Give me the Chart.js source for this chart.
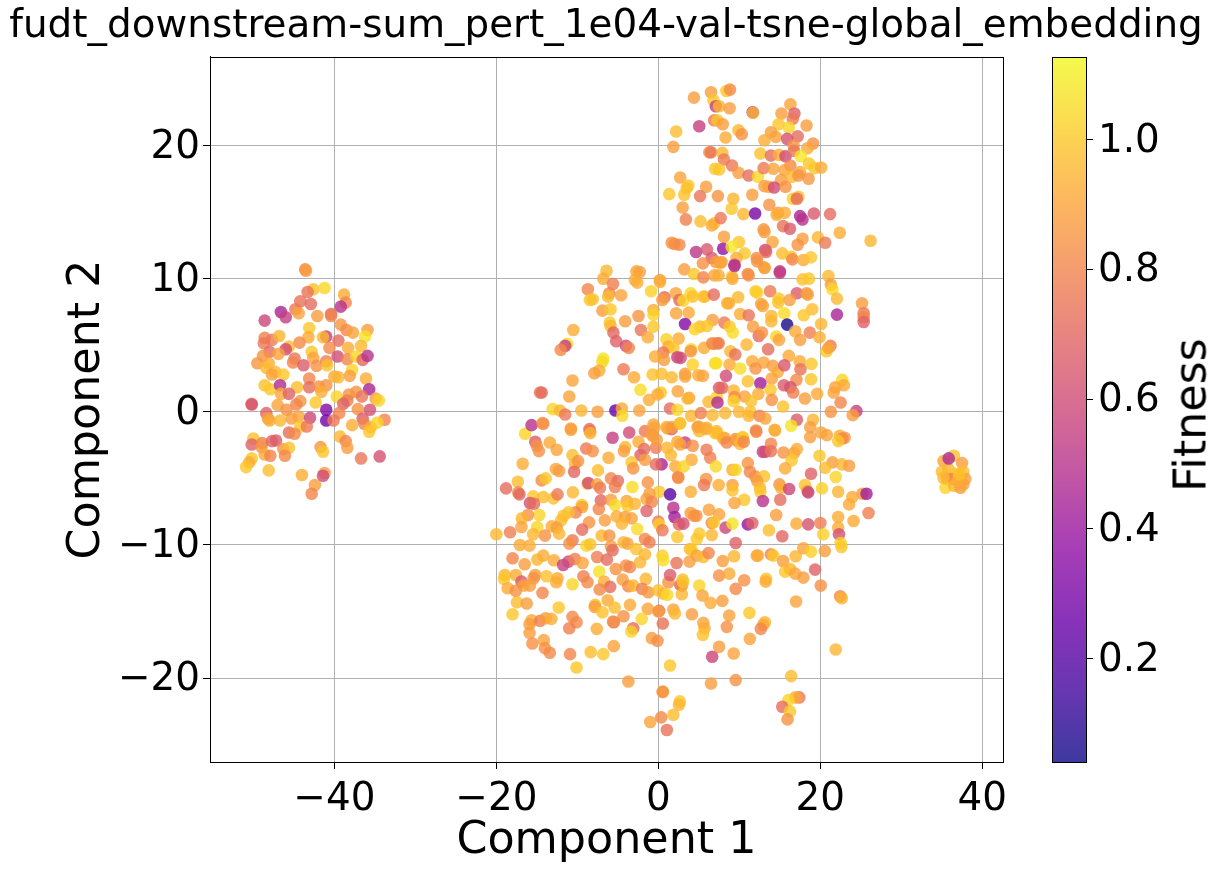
<!DOCTYPE html>
<html>
<head>
<meta charset="utf-8">
<script src="https://cdn.jsdelivr.net/npm/chart.js@4/dist/chart.umd.js"></script>
<style>
    html, body { margin: 0; padding: 0; background: #fff; overflow: hidden; }
    #page { position: relative; width: 1219px; height: 872px; }
    canvas { position: absolute; top: 0; }
    #scatter { left: 0; }
    #colorbar { left: 1040px; }
    #fitnessLabel {
        position: absolute; left: 1190px; top: 415px; font: 44.4px "DejaVu Sans";
        transform: translate(-50%, -50%) rotate(-90deg); white-space: nowrap; color: #000;
    }
</style>
</head>
<body>
<div id="page">
    <canvas id="scatter" width="1219" height="872"></canvas>
    <canvas id="colorbar" width="179" height="872"></canvas>
    <div id="fitnessLabel">Fitness</div>
</div>
<script>
const chartTitle = 'fudt_downstream-sum_pert_1e04-val-tsne-global_embedding';
const xTitle = 'Component 1';
const yTitle = 'Component 2';
const colorbarTicks = [0.2, 0.4, 0.6, 0.8, 1.0];
const fitnessMin = 0.041;
const fitnessMax = 1.127;

// every point is [component 1, component 2, fitness]
const leftCluster = [
    [-43.6,10.7,.8],[-43.5,10.6,.88],[-42.6,9.2,.98],[-41.2,9.3,1.04],[-38.8,8.8,.92],[-38.6,8.2,.8],[-39.2,7.9,.5],[-43.3,9,.74],[-44.2,8.3,.74],[-42.9,8.1,.72],
    [-44.8,7.7,.76],[-44.4,7.4,.9],[-46.6,7.5,.45],[-46,7.1,.55],[-48.6,6.85,.58],[-42.1,7.2,.88],[-40.4,7.35,.7],[-40.4,7.2,.8],[-43.1,6.3,1],[-39.2,6.55,.86],
    [-38.5,6.15,.82],[-37.7,5.95,.9],[-35.9,6.15,.88],[-36.2,5.65,1.07],[-48.6,5.55,.78],[-47.7,5.4,.76],[-48.7,5.15,.76],[-46.8,5.7,.95],[-41,5.65,.55],[-41.4,5.6,.96],
    [-43.2,5.6,.92],[-39.5,5.35,.72],[-45.6,4.9,.97],[-44.3,5.2,.82],[-46,4.7,.6],[-40.6,4.8,.82],[-38.3,4.8,.93],[-36.7,4.95,.96],[-48,4.5,.72],[-48.8,4.2,.85],
    [-46.9,4.35,.9],[-42.8,4.5,1],[-42.6,4.05,.9],[-39.6,4.15,.6],[-38.4,3.95,.8],[-37.3,4.15,1.03],[-36.5,3.9,.7],[-35.9,4.2,.5],[-49.5,3.65,.86],[-48.1,3.65,.93],
    [-48.4,3.3,.96],[-44.9,4,.75],[-45.1,3.7,.8],[-43.8,3.5,.66],[-42.2,3.45,.84],[-41,3.8,.78],[-40.9,3.5,.98],[-47.3,3,.95],[-47.7,2.8,.9],[-46.3,2.8,1],
    [-37.8,3.15,1.03],[-38.1,2.7,.88],[-40,2.65,.92],[-39.5,2.6,.95],[-36.1,2.5,.93],[-43.1,2.5,.8],[-48.6,2,.98],[-47.9,1.7,1],[-46.7,2,.48],[-44.6,1.85,.97],
    [-43.1,1.85,.72],[-41.9,1.9,.85],[-41,2,.85],[-41.6,1.5,.93],[-35.7,1.7,.45],[-46.6,1.35,.92],[-45.6,1.35,.68],[-44.2,.8,.85],[-44.7,.55,.8],[-42.3,.7,1],
    [-39.7,1.15,1.03],[-38.2,1.3,.85],[-37.3,1.5,.85],[-36.6,1.15,.75],[-38.4,.85,.78],[-38.9,.6,.68],[-34.9,1,.88],[-34.5,.85,1.03],[-50.2,.6,.8],[-50.2,.55,.62],
    [-47,.5,.9],[-45.9,.15,.84],[-37.1,.2,.85],[-35.6,.15,.62],[-41,.15,.33],[-39.4,-.1,.8],[-48.4,-.1,.68],[-48.2,-.5,.88],[-48,-.65,.92],[-46.7,-.65,.95],
    [-45.3,-.5,.88],[-44.4,-.35,.9],[-43,-.45,.58],[-41,-.65,.28],[-40.1,-.65,.76],[-36.5,-.5,.66],[-37.8,-1,.93],[-33.8,-.6,.8],[-36.3,-.9,.8],[-35.5,-1.15,.93],
    [-35.7,-1.5,1],[-34.7,-.8,1.03],[-44.2,-1.1,1],[-43.4,-1.1,.76],[-45.6,-1.55,.72],[-44.9,-1.65,.82],[-39.3,-1.85,.95],[-38.6,-2.2,.8],[-38.4,-2.7,.88],[-50,-2,.98],
    [-50.2,-2.45,.68],[-48.9,-2.35,.78],[-49,-2.65,.85],[-47.7,-2.2,.7],[-47.2,-2.15,.66],[-46.3,-2.8,.85],[-45.6,-2.7,.98],[-48.6,-3.2,.92],[-47.9,-3.3,.8],[-46.1,-3.3,.82],
    [-41.7,-2.65,.85],[-41.4,-3,1],[-36.7,-3.5,.75],[-34.4,-3.35,.62],[-50.2,-3.5,1],[-50.5,-3.8,.92],[-50.9,-4.15,1],[-48.1,-4.4,.97],[-44,-4.75,.93],[-41.2,-4.6,.88],
    [-41.4,-4.8,.6],[-42.4,-5.5,.88],[-42.8,-6.15,.8]
];
const upperBlob = [
    [4.4,23.6,.88],[6.5,24,.88],[8.4,24.1,1],[8.85,24.2,.82],[6.8,23.4,1],[7.1,22.95,.55],[7.5,22.95,.95],[8.8,22.8,.88],[11.65,22.5,.48],[11.7,22.45,.95],
    [16.3,23.1,.9],[15.2,22.4,.88],[16.8,22.4,.68],[16.6,22,.76],[18.3,21.5,.88],[5.05,21.45,.55],[6.9,21.9,.75],[7.3,21.9,1],[7.95,21.6,.88],[14.85,21.6,1],
    [16.1,21.35,1.03],[2.2,21.05,.97],[9.9,21.15,.95],[10.3,20.85,.85],[8.3,20.6,.93],[13.9,21,.88],[14.5,20.65,.9],[13.1,20.4,.93],[17.2,20.7,.72],[15.9,20.5,.62],
    [16.7,20,.85],[19.1,20.15,.84],[18.4,19.8,.92],[1.85,19.9,.88],[6.3,19.5,.85],[6.5,19.5,.75],[7.9,19.45,.95],[12.6,19.4,.98],[13.9,19.25,.72],[14.9,19.3,.93],
    [15.7,19.2,.6],[16.75,19.6,.76],[17.6,19.2,1.08],[18.6,18.65,1],[8.1,18.95,.76],[9.1,18.5,.76],[16.3,18.5,.82],[7,18.25,1],[7.5,18.2,1],[9.9,17.95,.88],
    [11.15,17.75,.72],[12.3,17.65,1.04],[13,18.3,.76],[14.2,18.25,.9],[15.6,18.15,.9],[17.5,18,.92],[19.3,18.3,1],[20.1,18.35,.92],[16.5,17.65,.97],[17.3,17.75,.85],
    [18.55,17.5,.86],[15.15,17.4,.88],[13.1,16.95,.88],[13.6,16.9,.9],[14.3,16.85,.6],[15.7,16.9,.85],[2.7,17.6,.9],[3.7,17,1],[3.5,16.8,.98],[5.9,16.9,.88],
    [1.35,16.35,1],[3.2,16.3,.98],[5.15,16.2,.75],[7.35,16.2,.85],[9.25,16,.95],[11.6,16.3,.88],[16.6,16,1.02],[17.3,16.15,.98],[17.1,16,.72],[3,15.35,.88],
    [9.05,15.25,1],[13.7,15.55,.85],[10.5,14.85,.95],[11.95,14.9,.3],[14.8,14.95,.88],[14.6,14.8,.93],[15.6,14.95,.93],[17.5,14.7,.45],[17.8,14.45,.5],[19.2,14.9,.65],
    [21.2,14.85,.72],[3.4,14.45,.78],[5.2,14.3,.97],[6.9,14.15,.98],[6.6,14,.92],[7.7,14.55,.76],[15.4,13.95,.74],[16.25,13.75,.66],[13,13.7,.85],[13.1,13.5,.88],
    [8.1,13.15,.88],[22.4,13.45,.93],[26.2,12.85,.95],[19.7,13.1,.95],[20.6,12.7,.76],[17.8,13,.88],[17.2,12.55,.85],[14.1,12.75,.9],[9.95,12.75,1],[1.65,12.7,.84],
    [2,12.6,.84],[2.6,12.55,.82],[4.65,12,.52],[6,12.2,.65],[8,12.25,.38],[9.05,12.4,1.08],[10.65,11.9,1],[9.65,11.55,.93],[13.2,12.15,.58],[13.3,12,.7],
    [15.3,11.9,.97],[16.4,11.65,1],[16.55,11.45,.8],[17.9,11.4,.92],[18.85,11.6,1],[6.6,11.55,.65],[5.5,11.15,.84],[7.1,11.25,.88],[7.8,11.25,.88],[9.4,11.05,.55],
    [12.15,11.55,.82],[13.1,10.85,.92],[15,10.55,.5],[3.2,10.7,.88],[4.4,10.35,1],[5.55,10.1,.8],[6.9,10.25,.9],[7.45,10.25,.93],[9.1,10.15,.97],[11.05,10.35,.82],
    [17.8,9.95,.98],[18.6,10,1],[21,10.2,.96],[.2,9.9,.88],[-2.3,10.5,.88]
];
const middleLeft = [
    [-6.4,10.6,.95],[-6.8,10,.93],[-2.7,10.55,.9],[-2.9,9.9,.93],[-2.6,9.7,.93],[.2,9.75,.93],[-8.7,9.2,.8],[-5.6,9.6,.78],[-6.05,8.9,.8],[-6.2,8.65,.97],
    [-4.6,8.75,.9],[-8.45,8.4,1],[-8.1,8.45,.98],[-.9,9.05,1.02],[.75,8.6,.72],[.5,8.4,.88],[2.15,8.9,.9],[2.6,8.4,.7],[3.1,8.35,1.03],[4,8.9,1.03],
    [4.25,8.65,.98],[5.55,8.65,1],[5.75,8.65,.97],[6.85,8.8,.72],[-6.9,7.6,.88],[-5.9,7.7,1],[-2.45,7.2,.85],[-.6,7.65,.92],[-.6,7.3,1.03],[2.2,7.4,.9],
    [3.75,7.45,.92],[-4.1,6.8,.88],[-6,6.7,1],[-5.9,6.45,.96],[-.6,6.4,1],[3.3,6.6,.33],[6.7,6.9,.88],[5.15,6.4,.95],[4.5,6.2,1.03],[6,6.45,1],
    [-10.5,6.15,.93],[-5.55,5.95,.7],[-2.15,6.15,.75],[-1.3,5.6,.92],[-5.2,5.3,.68],[-4,4.95,.6],[-3.65,4.8,.8],[1,5.45,1.02],[2.5,5.5,.93],[1.25,4.9,.92],
    [1.85,4.8,1],[4.05,4.7,1.03],[4,4.55,.85],[5.65,4.8,.92],[6.65,5.15,.82],[7.3,5.15,.8],[-11.25,5.1,1.05],[-11.5,4.95,.55],[-12.05,4.65,.82],[-6.8,4,1.07],
    [-6.9,3.75,1.05],[.6,4.45,.76],[-.4,4.15,.93],[.7,3.9,.88],[2.35,4.1,.55],[2.75,4.05,.6],[4.25,3.55,1.02],[7,3.65,1.06],[-7.3,3.1,.93],[-7.9,2.9,.88],
    [-4.3,3.2,.76],[-3,2.6,.92],[-10.6,2.35,.9],[-.7,2.8,.98],[.4,2.85,.97],[1.65,2.6,.96],[3.3,2.85,.88],[3.3,2.65,.9],[4.95,2.75,.92],[5.5,2.7,.9],
    [-2.2,1.65,1.05],[-14.6,1.45,.76],[-14.4,1.45,.72],[-11,1.15,.9],[.3,1.45,1],[-.1,1.3,.92],[-1.15,.9,.93],[2.4,1.55,.9],[3.8,1.05,.9],[3.6,1,.95],
    [6.2,.75,.95],[7.2,1.1,1.03],[7.3,.7,.48],[7.5,1.8,.65],[-13.05,.2,1.03],[-12.15,.1,.95],[-11.5,-.2,.76],[-9.5,.1,.95],[-7.5,0,.88],[-5.3,.1,.25],
    [-4.5,.25,.92],[-4.45,-.3,1.04],[-2.35,.1,.9],[1.45,.25,.72],[2.35,.15,1.03],[4.05,-.3,.95],[5.25,-.1,.78],[6.7,-.25,.96],[-14.2,-.9,.8],[-10.8,-1.35,.9],
    [-8.45,-1.45,.82],[-5.65,-1.95,.55],[-3.6,-1.55,.6],[-1.65,-1.45,.76],[-.5,-1.2,.9],[-.7,-1.8,.88],[1.15,-1.25,.93],[1.65,-1.3,.68],[2.65,-.9,.98],[3.3,-2.3,.55],
    [4.85,-1.15,.88],[5.05,-1.45,.95],[5.85,-1.3,.93],[7,-1.6,.98]
];
const middleRight = [
    [9.4,10.95,.5],[13.1,10.8,.88],[15,10.45,.55],[11.15,10.25,.84],[9.15,10,.92],[12.2,11.3,.85],[7.65,11.2,.9],[21.3,9.55,.88],[21.5,9.2,1.04],[22.05,8.5,.96],
    [25.15,8.15,.88],[25.35,7.4,.76],[25.35,7.1,.8],[25.35,6.75,.68],[22.05,7.3,.45],[12,9.05,1],[12.2,8.95,1.02],[13.8,9.05,.76],[17.1,8.9,.66],[18.3,8.9,.86],
    [18.45,8.8,.88],[9.85,8.6,.96],[14.85,8.5,1],[14.8,8.2,.98],[16.2,8.4,.88],[8.5,8.15,.95],[8.7,8.15,.93],[12.7,8.1,.88],[12.9,7.95,.9],[19,7.7,.97],
    [17.95,7.25,1],[15.55,7.4,1.05],[10.1,7.35,.93],[11.15,7.25,.74],[13.95,7.2,.95],[13.95,6.8,.95],[15.9,6.55,.06],[20.1,6.6,.95],[8.15,6.7,.76],[8.8,6.4,1],
    [9.2,5.95,1.05],[11.7,6.4,.88],[12.4,5.7,.72],[12.8,5.95,.85],[16.9,6.05,.92],[18.7,5.95,.78],[19.9,5.6,.93],[14.55,5.65,1.03],[14.9,5.4,.9],[17.5,5.4,.88],
    [21.25,4.95,.76],[20.75,4.55,1],[21,4.8,.9],[6.8,5.1,.84],[7.45,5.15,.78],[10.9,5.05,.95],[13.55,4.7,.72],[8.9,4.55,.95],[9.5,4.3,.74],[16.1,4.2,.92],
    [7.15,3.65,1.06],[8.8,3.55,.92],[11.6,3.8,.92],[13,3.7,.9],[12,3.25,.85],[10.1,3.25,1.05],[14.15,3.45,.88],[14.75,3,.92],[15.55,3.5,.64],[17.45,3.8,.92],
    [18.9,3.6,1],[17.55,3.2,.74],[14,2.5,.9],[17.05,2.4,.82],[18.85,2.45,1],[8.35,2.7,.6],[11.05,2.3,.98],[12.6,2.15,.42],[15.5,2,.66],[16.3,1.85,.62],
    [16.65,1.45,.78],[13.85,1.65,1],[7.9,1.8,.7],[9.3,1.6,.95],[12.35,1.35,.93],[10.65,1.15,.9],[9.4,1.1,.82],[9.3,.8,1.02],[11.45,.8,.98],[14,.9,.84],
    [18.1,1,.88],[19.6,1.35,.92],[22.7,2.4,1.04],[21.85,1.85,.9],[22.9,2,.92],[21.65,1.45,.9],[22.5,.7,.8],[24.45,.05,.55],[24,-.25,.88],[21.3,0,.85],
    [15.4,.4,.98],[8.25,-.1,.95],[9.95,0,.95],[11.35,0,.98],[11.15,-.3,.95],[12.5,-.3,.8],[13.2,-.5,.9],[17.1,-.6,.66],[19.1,-.6,.95],[16.4,-1.05,1.07],
    [18.75,-1.15,.88],[18.75,-1.9,.88],[14.4,-1.4,.93],[12.1,-1.5,.84],[7.25,-1.6,.98],[10.45,-1.95,1.03],[9.5,-2.05,.85],[8.15,-1.95,.9],[20.1,-1.55,.9],[20.8,-1.75,.9],
    [23,-1.95,.85]
];
const centerLeft = [
    [-16.45,-1.65,1.03],[-15.65,-1,.5],[-14.3,-.85,.85],[-10.8,-1.25,.88],[-8.5,-1.3,.72],[-8.4,-1.6,.95],[-15.2,-2.25,.66],[-15,-2.55,.85],[-14.75,-2.95,.84],[-13.4,-2.3,.92],
    [-12.55,-2.85,.9],[-16.75,-3.9,.93],[-8.9,-2.75,.76],[-8.1,-2.95,.84],[-6.15,-3.45,.92],[-10.6,-3.25,.97],[-10.3,-3.9,.95],[-9.9,-3.7,.85],[-10.4,-4.5,.7],[-4.1,-2.65,.95],
    [-4.25,-2.95,.88],[-2.45,-2.25,.93],[-1.75,-2.8,.72],[-2.2,-3.25,.68],[-1.65,-3.6,.88],[-.6,-.95,.9],[-.8,-1.7,.88],[-.3,-2.7,.78],[-.2,-2.1,.88],[1.1,-2.7,.95],
    [1.55,-3.25,.96],[.4,-3.95,.45],[-3.3,-3.8,1],[-3.1,-4.25,.85],[2.1,-4.1,.92],[2.45,-4.9,.85],[-.3,-3.95,.72],[1,-1.15,.92],[1.65,-1.15,.88],[-12.65,-4.3,.9],
    [-12.25,-4.45,.88],[-7.45,-4.4,.97],[-14.4,-5.15,.82],[-13.9,-5,1],[-17.35,-5.25,.97],[-5.85,-5,.8],[-5,-5.2,.72],[-5.35,-5.65,.78],[-8.75,-5.4,1.03],[-8.65,-5.35,.6],
    [-7.55,-5.45,.9],[-7.2,-5.7,.76],[-3.2,-5.65,1.05],[-1.3,-5.3,.85],[.1,-6,1],[1.45,-6.2,.2],[-18.8,-5.75,.72],[-17.3,-6.05,.82],[-17.15,-6.2,.7],[-15.45,-6.35,1],
    [-14.2,-6.4,.97],[-12.95,-6.5,.98],[-12.45,-6.2,.76],[-10.55,-6.05,.96],[-15.85,-6.85,.62],[-15.35,-6.9,.72],[-9.45,-7,1],[-9.4,-7.15,.9],[-10.2,-7.55,.8],[-7.1,-6.65,.7],
    [-7.35,-7.3,.8],[-5.85,-6.6,.88],[-5.35,-7,1.05],[-3.9,-6.7,.9],[-3.8,-7.05,1],[-2.9,-6.9,.95],[-1.45,-6.55,.9],[-1.1,-6.15,.88],[-.8,-6.75,.8],[-1.45,-7.45,.68],
    [1.85,-7.2,.5],[2,-7.9,.42],[-14.7,-7.75,1.03],[-16.1,-7.75,.84],[-16.85,-8,.95],[-11.1,-7.55,.98],[-11.7,-7.8,.98],[-12,-8.15,.97],[-8.55,-8.3,.85],[-6.6,-8.15,.88],
    [-5.15,-7.85,.93],[-4.1,-7.9,.88],[-3.3,-8,.9],[-4.5,-8.4,.95],[0,-8.25,.76],[.1,-8.45,1.02],[.5,-8.9,.76],[2.55,-8.45,.7],[-16.9,-8.65,.9],[-14.95,-8.65,1.03],
    [-13.15,-8.6,.93],[-12.55,-8.7,.88],[-20,-9.2,.96],[-18.3,-9.05,.78],[-15.45,-9.2,.95],[-14,-9.3,.84],[-12.25,-9.15,.95],[-9.4,-8.85,.72],[-2.6,-8.8,1.05],[-7,-9.3,.95],
    [-6.05,-9.3,.85],[-10.6,-9.65,.76],[-11,-9.9,.84],[-1.65,-9.55,.8],[-1.1,-9.8,.78],[-4.3,-9.8,.95],[-3.8,-9.9,.9],[2.35,-9.4,1],[-17.1,-10,.92],[-15.9,-10.05,.93],
    [-8.9,-10.05,1.03],[-8.4,-9.95,.98],[-5.85,-10.1,.88],[-5.65,-10.4,.72],[-2.75,-10.3,.98],[-1.65,-10.7,.95],[.5,-10.8,1.02],[.6,-11.15,1.05],[2.25,-11.35,.74],[-18,-11,.8],
    [-16.5,-11.45,.88],[-14.95,-11.1,.95],[-14.2,-10.8,.93],[-12.9,-11.15,.92],[-11.75,-11.5,.55],[-11.1,-11.25,.6],[-10.3,-11.05,.78],[-9.35,-11.35,.9],[-7.55,-10.9,.78],[-6.35,-11.1,.72],
    [-7.3,-12,1.07],[-5.25,-11.8,.85],[-4,-11.55,.84],[-3.5,-11.65,.8],[-2.25,-11.3,.95]
];
const lowerLeft = [
    [-18.95,-12.25,.95],[-19.05,-12.55,1],[-17.6,-12.25,.93],[-16.9,-12.75,.65],[-15.2,-12.25,.88],[-13.8,-12.35,.98],[-12.45,-12.5,.92],[-12.6,-12.8,.93],[-15.4,-12.5,.84],[-15.85,-13.05,.88],
    [-16.6,-13.05,.9],[-18.6,-13.25,.92],[-17.6,-13.45,.84],[-14.3,-13.6,.8],[-10.6,-12.95,1.03],[-9.25,-12.35,.78],[-8.75,-12.8,.82],[-6.7,-12.75,.93],[-5.95,-13.15,.72],[-7.25,-13.35,.82],
    [-4.4,-12.6,.88],[-3.7,-13.1,.82],[-3.1,-13.05,.95],[-1.55,-12.55,.95],[-2,-13.3,.78],[-1.25,-13.55,.86],[0,-13.4,.98],[.6,-13.65,.95],[1.1,-13.75,1.04],[1.25,-12.8,.84],
    [1.45,-12.25,.66],[2.7,-13,.72],[-17.45,-14.3,.97],[-16.25,-14.4,.88],[-12.3,-14.7,1],[-7.8,-14.5,.97],[-7.85,-14.65,.88],[-6.25,-14.15,.92],[-6.9,-15.05,.98],[-5.4,-14.7,.97],
    [-3.5,-14.5,.92],[-1.3,-14.8,.9],[.1,-14.95,.72],[0,-15,.88],[1.85,-14.85,.9],[2.05,-15.15,.96],[-18,-15.2,1],[-4.3,-15.35,.84],[-2.05,-15.55,1.03],[-15.65,-15.65,.92],
    [-15.9,-15.95,.88],[-14.6,-15.7,.78],[-13.9,-15.5,.88],[-13.2,-15.55,.93],[-10.6,-15.4,.82],[-10.1,-15.8,.82],[-11,-16.25,.78],[-7.6,-16.3,.93],[-5.5,-15.8,.72],[-5.6,-15.75,.85],
    [.55,-15.9,.74],[-3.1,-16.25,.72],[-3.35,-16.5,1.03],[-15.9,-16.6,.88],[-.8,-17,.88],[-.1,-17.2,.84],[-15.55,-17.4,.84],[-14.15,-17.15,.9],[-14,-17.75,.84],[-13.4,-18.1,.82],
    [-10.9,-18.2,.8],[-8.35,-18.05,.97],[-6.8,-18.2,1],[-5.5,-17.6,.9],[-10.1,-19.2,1],[1.45,-19.05,1],[-3.7,-20.25,.88],[.55,-21.05,.9],[.55,-21,.85],[2.65,-21.75,1],
    [2.55,-22,.95],[1.85,-22.75,.97],[.35,-22.95,.82],[-1,-23.3,.9],[1.05,-23.9,.74]
];
const centerRight = [
    [2.7,-.85,.98],[4.95,-1.1,.9],[5.95,-1.2,.93],[7.2,-1.45,.97],[8,-2,.93],[8.45,-2.3,.8],[9.65,-2.15,.88],[10.4,-1.9,1],[10.1,-2.4,.95],[10.55,-2.25,.8],
    [12.05,-1.4,.8],[14.35,-1.35,.93],[22.4,-1.8,.93],[22.7,-2,.82],[22.2,-2.2,1],[2.35,-2.25,.92],[2.7,-2.45,.9],[4.25,-2.55,.84],[5.95,-2.85,.76],[6.4,-3.45,.78],
    [4.1,-3.6,.92],[3.15,-4.1,1.03],[7.1,-4.1,1.04],[12.9,-3,.55],[13.2,-3,.6],[13.9,-2.4,.8],[13.9,-2.95,.74],[15.45,-3.05,.85],[16.75,-3.1,.9],[17.1,-2.8,.92],
    [16.45,-3.65,1],[15.65,-4.25,.92],[19.9,-3.3,1],[21.5,-3.8,.88],[22.65,-3.95,.95],[23.55,-4.05,.88],[20.6,-4.2,.97],[21.9,-4.9,1.03],[18.85,-4.65,.68],[11.05,-3.85,.85],
    [9.15,-4.35,.92],[9.55,-4.35,1.03],[11.3,-4.5,.8],[11.95,-4.85,.84],[13.05,-4.85,.98],[12.2,-5.2,.88],[2.45,-4.95,.82],[5.9,-5.05,.85],[5.65,-5.5,.76],[7.45,-5.5,.93],
    [9.15,-5.5,.88],[9.15,-5.9,.98],[12.55,-5.7,.95],[12.6,-6,1],[14.95,-5.45,.85],[15.15,-5.7,.93],[16.15,-5.8,.58],[18.1,-5.5,.98],[18.4,-5.95,.88],[18.5,-6.05,.55],
    [20.2,-5.75,1.02],[22.2,-6,.95],[25.2,-6.15,.88],[25.7,-6.15,.42],[23.95,-6.4,.92],[23.55,-6.95,.92],[4,-6,.93],[10.6,-6.6,1],[9.4,-6.85,.9],[12.9,-6.7,.5],
    [15.05,-6.6,.72],[6.25,-7.35,.9],[4,-7.6,.88],[4.4,-7.8,.86],[4.7,-7.8,.84],[7.5,-7.7,.9],[3.1,-8.4,.62],[6.6,-8.35,.82],[6.85,-8.3,1],[8.3,-8.7,.58],
    [9.15,-8.4,1.07],[11.05,-8.45,.38],[11.6,-8.35,.68],[14.55,-7.75,.88],[17.05,-8.4,.92],[18.5,-8.45,.62],[20,-8.35,.78],[22.2,-7.9,.93],[24.1,-8.2,.92],[25.95,-7.6,.78],
    [22.2,-8.7,.93],[22.3,-9.2,.62],[20.35,-9.2,1.02],[13.65,-8.9,.97],[15.3,-9.35,.7],[4.75,-9.55,1],[5.05,-9.15,1],[6.6,-9.25,.95],[9.55,-9.85,.68],[22.5,-9.85,1.02],
    [22.6,-10.15,1],[17.9,-10.25,.9],[18.85,-10.5,1.02],[20.55,-10.45,.88],[3.9,-10.3,.95],[4.1,-10.35,1],[4.75,-10.8,.9],[5.55,-10.9,.97],[6.2,-10.6,.8],[9.35,-10.85,.95],
    [12.15,-10.8,.88],[12.3,-10.8,.93],[13.9,-10.7,.8],[14.2,-10.8,1],[16.95,-10.85,.95],[15.4,-11.2,.88],[3.85,-11.25,.88],[7.95,-11.2,.88],[19.35,-11.85,.68],[15.65,-12,1],
    [16.25,-11.8,.95],[16.9,-12.15,.9],[17.9,-12.45,.88],[7.5,-12.3,.84],[8.75,-12.15,.92],[10.6,-12.65,.84],[13.3,-12.55,.98],[3,-12.6,.97]
];
const lowerRight = [
    [2.9,-13.05,.78],[3.05,-12.8,1],[5.05,-13.05,1.03],[2.9,-13.7,.95],[9.55,-13.3,.82],[13.25,-12.75,.93],[5.45,-13.8,.9],[6.45,-14.35,.93],[7.9,-14.2,.88],[17,-14.25,.9],
    [20.05,-13.05,.84],[22.45,-13.85,.8],[22.65,-14,.95],[4.15,-15.2,.88],[8.75,-15.3,.9],[11.25,-15.1,1],[5.55,-15.85,.9],[5.7,-16.25,.93],[5.5,-16.75,.98],[8.45,-16.15,.84],
    [13.15,-15.8,.95],[12.95,-16,.92],[12.65,-16.3,.8],[11.3,-17.05,.9],[7.5,-17.65,.88],[9.3,-18.15,.9],[6.65,-18.4,.58],[21.9,-17.85,.95],[16.4,-19.85,.97],[6.5,-20.4,.88],
    [9.55,-20.15,.85],[17.4,-21.45,.76],[16.9,-21.45,.92],[16.05,-21.65,1.03],[15.3,-22.15,.72],[16.25,-22.5,1],[15.95,-23.1,.85]
];
const rightCluster = [
    [36.5,-3.3,.98],[35.2,-3.7,.9],[37.5,-3.85,.88],[35,-4.5,.97],[35.8,-4.3,.95],[36.65,-4.65,1],[37.65,-4.5,.97],[35.65,-5.05,.78],[36.25,-5.05,.82],[35.45,-5.7,1.03],
    [36.5,-5.55,.95],[37.3,-5.7,.88],[37.9,-5.05,.88],[37.65,-5.45,.9],[36.95,-5.2,.93],[35.2,-4.95,.97],[37.15,-4.7,.98],[35.85,-3.5,.47]
];

const points = [...leftCluster, ...upperBlob, ...middleLeft, ...middleRight, ...centerLeft,
    ...lowerLeft, ...centerRight, ...lowerRight, ...rightCluster];

// matplotlib plasma, sampled every tenth
const plasma = [[13,8,135],[65,4,157],[106,0,168],[143,13,164],[177,42,144],[204,71,120],[225,100,98],[242,132,75],[252,166,54],[252,206,37],[240,249,33]];

function plasmaColor(t) {
    const pos = Math.min(Math.max(t, 0), 1) * (plasma.length - 1);
    const i = Math.min(Math.floor(pos), plasma.length - 2);
    const f = pos - i;
    const c = plasma[i].map((v, k) => Math.round(v + (plasma[i + 1][k] - v) * f));
    return `rgba(${c[0]},${c[1]},${c[2]},0.8)`;
}

function fitnessColor(v) {
    return plasmaColor((v - fitnessMin) / (fitnessMax - fitnessMin));
}

const FONT = '"DejaVu Sans"';
const minusSign = (v) => String(v).replace('-', '\u2212');

// black frame on all four sides, like the matplotlib spines
const framePlugin = {
    id: 'frame',
    afterDraw(chart) {
        const a = chart.chartArea;
        const ctx = chart.ctx;
        ctx.save();
        ctx.strokeStyle = '#000';
        ctx.lineWidth = 1;
        ctx.strokeRect(Math.round(a.left) + 0.5, Math.round(a.top) + 0.5, Math.round(a.width), Math.round(a.height));
        ctx.restore();
    }
};

new Chart(document.getElementById('scatter'), {
    type: 'scatter',
    plugins: [framePlugin],
    data: {
        datasets: [{
            data: points.map(p => ({ x: p[0], y: p[1] })),
            backgroundColor: points.map(p => fitnessColor(p[2])),
            borderWidth: 0,
            pointRadius: 6.3
        }]
    },
    options: {
        responsive: false,
        animation: false,
        // the title is centred over the plot, not over the page
        layout: { padding: { right: 7 } },
        plugins: {
            legend: { display: false },
            tooltip: { enabled: false },
            title: {
                display: true,
                text: chartTitle,
                color: '#000',
                font: { family: FONT, size: 38.9, weight: 'normal' },
                padding: { top: 4, bottom: 6.3 }
            }
        },
        scales: {
            x: {
                type: 'linear',
                min: -55.35,
                max: 42.55,
                afterFit(scale) { scale.height = 110; },
                border: { color: '#000' },
                grid: { color: '#b0b0b0', tickColor: '#000', tickLength: 7, lineWidth: 1 },
                ticks: { stepSize: 20, includeBounds: false, color: '#000', padding: 8, maxRotation: 0, font: { family: FONT, size: 38.9 }, callback: minusSign },
                title: { display: true, text: xTitle, color: '#000', font: { family: FONT, size: 44.4 }, padding: { top: 0, bottom: 4 } }
            },
            y: {
                type: 'linear',
                min: -26.3,
                max: 26.65,
                afterFit(scale) { scale.width = 210; },
                border: { color: '#000' },
                grid: { color: '#b0b0b0', tickColor: '#000', tickLength: 7, lineWidth: 1 },
                ticks: { stepSize: 10, includeBounds: false, color: '#000', padding: 3, labelOffset: 2, font: { family: FONT, size: 38.9 }, callback: minusSign },
                title: { display: true, text: yTitle, color: '#000', font: { family: FONT, size: 44.4 }, padding: { top: 61, bottom: 0 } }
            },
            // empty axis that keeps the room for the colorbar on the right
            spacer: {
                type: 'linear',
                position: 'right',
                min: 0,
                max: 1,
                afterFit(scale) { scale.width = 209; },
                border: { display: false },
                grid: { display: false },
                ticks: { display: false }
            }
        }
    }
});

// colorbar: one floating bar over the whole fitness range, filled with plasma
function colorbarFill(ctx) {
    const area = ctx.chart.chartArea;
    if (!area) return '#000';
    const g = ctx.chart.ctx.createLinearGradient(0, area.bottom, 0, area.top);
    plasma.forEach((_, i) => g.addColorStop(i / (plasma.length - 1), plasmaColor(i / (plasma.length - 1))));
    return g;
}

new Chart(document.getElementById('colorbar'), {
    type: 'bar',
    plugins: [framePlugin],
    data: {
        labels: ['Fitness'],
        datasets: [{
            data: [[fitnessMin, fitnessMax]],
            backgroundColor: colorbarFill,
            barPercentage: 1,
            categoryPercentage: 1,
            borderWidth: 0
        }]
    },
    options: {
        responsive: false,
        animation: false,
        layout: { padding: { left: 12, top: 57, bottom: 110 } },
        plugins: { legend: { display: false }, tooltip: { enabled: false } },
        scales: {
            x: { display: false },
            y: {
                position: 'right',
                min: fitnessMin,
                max: fitnessMax,
                afterFit(scale) { scale.width = 133; },
                afterBuildTicks(scale) { scale.ticks = colorbarTicks.map(v => ({ value: v })); },
                border: { color: '#000' },
                grid: { drawOnChartArea: false, tickColor: '#000', tickLength: 7 },
                ticks: { color: '#000', padding: 5, labelOffset: 2, font: { family: FONT, size: 38.9 }, callback: (v) => Number(v).toFixed(1) }
            }
        }
    }
});
</script>
</body>
</html>
